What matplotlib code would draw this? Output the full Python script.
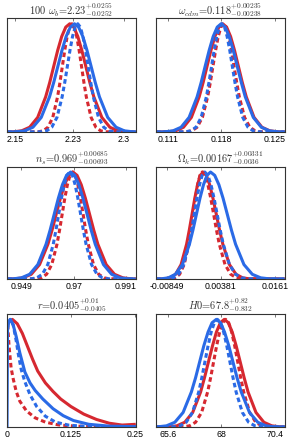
import matplotlib

matplotlib.use("Agg")
import matplotlib.pyplot as plt

RED = "#d62830"
BLUE = "#2a6ae6"

# heights (fraction of the peak) at which the bell-shaped curves were read,
# from the left edge of the panel to the right edge
levels = [0.0, 0.002, 0.011, 0.044, 0.135, 0.325, 0.458, 0.607, 0.755, 0.882, 0.969, 1.0,
          0.969, 0.882, 0.755, 0.607, 0.458, 0.325, 0.135, 0.044, 0.011, 0.002, 0.0]

# ---- 100 omega_b ----
wb_lim = (2.139, 2.3165)
wb_ticks = [2.15, 2.23, 2.3]
wb_labels = ["2.15", "2.23", "2.3"]
wb_red = [2.139, 2.1481, 2.1592, 2.1702, 2.1813, 2.1923, 2.1979, 2.2034, 2.2089, 2.2144, 2.2200, 2.2255,
          2.2310, 2.2366, 2.2421, 2.2476, 2.2531, 2.2587, 2.2697, 2.2808, 2.2918, 2.3029, 2.3165]
wb_blue = [2.139, 2.1518, 2.1633, 2.1747, 2.1862, 2.1976, 2.2034, 2.2091, 2.2148, 2.2205, 2.2263, 2.2320,
           2.2377, 2.2435, 2.2492, 2.2549, 2.2606, 2.2664, 2.2778, 2.2893, 2.3007, 2.3122, 2.3165]
wb_red_dot = [2.139, 2.1823, 2.1889, 2.1955, 2.2021, 2.2087, 2.2120, 2.2153, 2.2186, 2.2219, 2.2252, 2.2285,
              2.2318, 2.2351, 2.2384, 2.2417, 2.2450, 2.2483, 2.2549, 2.2615, 2.2681, 2.2747, 2.3165]
wb_blue_dot = [2.139, 2.1864, 2.1936, 2.2007, 2.2079, 2.2150, 2.2186, 2.2222, 2.2258, 2.2293, 2.2329, 2.2365,
               2.2401, 2.2437, 2.2472, 2.2508, 2.2544, 2.2580, 2.2651, 2.2723, 2.2794, 2.2866, 2.3165]

# ---- omega_cdm ----
wc_lim = (0.10946, 0.12631)
wc_ticks = [0.111, 0.118, 0.125]
wc_labels = ["0.111", "0.118", "0.125"]
wc_red = [0.10946, 0.11102, 0.11205, 0.11307, 0.11410, 0.11512, 0.11564, 0.11615, 0.11666, 0.11717, 0.11769,
          0.11820, 0.11871, 0.11923, 0.11974, 0.12025, 0.12076, 0.12128, 0.12230, 0.12333, 0.12435, 0.12538,
          0.12631]
wc_blue = [0.10946, 0.11065, 0.11170, 0.11275, 0.11380, 0.11485, 0.11538, 0.11590, 0.11643, 0.11695, 0.11748,
           0.11800, 0.11853, 0.11905, 0.11958, 0.12010, 0.12063, 0.12115, 0.12220, 0.12325, 0.12430, 0.12535,
           0.12631]
wc_red_dot = [0.10946, 0.11347, 0.11416, 0.11485, 0.11554, 0.11623, 0.11658, 0.11692, 0.11727, 0.11761, 0.11796,
              0.11830, 0.11865, 0.11899, 0.11934, 0.11968, 0.12003, 0.12037, 0.12106, 0.12175, 0.12244, 0.12313,
              0.12631]
wc_blue_dot = [0.10946, 0.11334, 0.11402, 0.11470, 0.11538, 0.11606, 0.11640, 0.11674, 0.11708, 0.11742, 0.11776,
               0.11810, 0.11844, 0.11878, 0.11912, 0.11946, 0.11980, 0.12014, 0.12082, 0.12150, 0.12218, 0.12286,
               0.12631]

# ---- n_s ----
ns_lim = (0.9432, 0.9950)
ns_ticks = [0.949, 0.97, 0.991]
ns_labels = ["0.949", "0.97", "0.991"]
ns_red = [0.9432, 0.94625, 0.9496, 0.95295, 0.9563, 0.95965, 0.96133, 0.9630, 0.96468, 0.96635, 0.96803, 0.9697,
          0.97138, 0.97305, 0.97473, 0.9764, 0.97808, 0.97975, 0.9831, 0.98645, 0.9898, 0.99315, 0.9950]
ns_blue = [0.9432, 0.9457, 0.9490, 0.9523, 0.9556, 0.9589, 0.96055, 0.9622, 0.96385, 0.9655, 0.96715, 0.9688,
           0.97045, 0.9721, 0.97375, 0.9754, 0.97705, 0.9787, 0.9820, 0.9853, 0.9886, 0.9919, 0.9950]
ns_red_dot = [0.9432, 0.9549, 0.9570, 0.9591, 0.9612, 0.9633, 0.96435, 0.9654, 0.96645, 0.9675, 0.96855, 0.9696,
              0.97065, 0.9717, 0.97275, 0.9738, 0.97485, 0.9759, 0.9780, 0.9801, 0.9822, 0.9843, 0.9950]
ns_blue_dot = [0.9432, 0.9530, 0.9552, 0.9574, 0.9596, 0.9618, 0.9629, 0.9640, 0.9651, 0.9662, 0.9673, 0.9684,
               0.9695, 0.9706, 0.9717, 0.9728, 0.9739, 0.9750, 0.9772, 0.9794, 0.9816, 0.9838, 0.9950]

# ---- Omega_k ----
ok_lim = (-0.01092, 0.01837)
ok_ticks = [-0.00849, 0.00381, 0.0161]
ok_labels = ["-0.00849", "0.00381", "0.0161"]
ok_red = [-0.01092, -0.00895, -0.0077, -0.00645, -0.0052, -0.00395, -0.00333, -0.0027, -0.00208, -0.00145,
          -0.00083, -0.0002, 0.00055, 0.0013, 0.00205, 0.0028, 0.00355, 0.0043, 0.0058, 0.0073, 0.0088, 0.0103,
          0.01837]
ok_blue = [-0.01092, -0.0097, -0.0081, -0.0065, -0.0049, -0.0033, -0.0025, -0.0017, -0.0009, -0.0001, 0.0007,
           0.0015, 0.00245, 0.0034, 0.00435, 0.0053, 0.00625, 0.0072, 0.0091, 0.0110, 0.0129, 0.0148, 0.01837]
ok_red_dot = [-0.01092, -0.00758, -0.00655, -0.00553, -0.0045, -0.00348, -0.00296, -0.00245, -0.00194, -0.00143,
              -0.00091, -0.0004, 0.00025, 0.0009, 0.00155, 0.0022, 0.00285, 0.0035, 0.0048, 0.0061, 0.0074, 0.0087,
              0.01837]
ok_blue_dot = [-0.01092, -0.0082, -0.0070, -0.0058, -0.0046, -0.0034, -0.0028, -0.0022, -0.0016, -0.0010, -0.0004,
               0.0002, 0.0009, 0.0016, 0.0023, 0.0030, 0.0037, 0.0044, 0.0058, 0.0072, 0.0086, 0.0100, 0.01837]

# ---- r (one-sided) ----
r_lim = (0.0, 0.2518)
r_ticks = [0.0, 0.125, 0.25]
r_labels = ["0", "0.125", "0.25"]
r_red_x = [0.0, 0.004, 0.0105, 0.02, 0.03, 0.04, 0.05, 0.06, 0.075, 0.09, 0.105,
           0.125, 0.15, 0.175, 0.2, 0.225, 0.2518]
r_red_y = [0.93, 0.98, 1.0, 0.96, 0.87, 0.75, 0.63, 0.52, 0.41, 0.33, 0.26,
           0.19, 0.12, 0.07, 0.035, 0.018, 0.025]
r_blue_x = [0.0, 0.001, 0.003, 0.0066, 0.012, 0.018, 0.025, 0.035, 0.045, 0.055, 0.07,
            0.09, 0.11, 0.13, 0.16, 0.2, 0.2518]
r_blue_y = [0.0, 0.9, 0.97, 1.0, 0.95, 0.84, 0.69, 0.51, 0.41, 0.34, 0.26,
            0.17, 0.105, 0.06, 0.025, 0.008, 0.003]
r_red_dot_x = [0.0, 0.001, 0.004, 0.008, 0.012, 0.018, 0.025, 0.038, 0.055, 0.075,
               0.1, 0.13, 0.2518]
r_red_dot_y = [0.92, 0.97, 0.75, 0.55, 0.45, 0.33, 0.24, 0.15, 0.085, 0.045,
               0.02, 0.008, 0.0]
r_blue_dot_x = [0.0, 0.003, 0.006, 0.012, 0.018, 0.022, 0.028, 0.035, 0.045, 0.058,
                0.075, 0.095, 0.12, 0.15, 0.2518]
r_blue_dot_y = [0.9, 0.97, 1.0, 0.95, 0.8, 0.68, 0.53, 0.42, 0.3, 0.19,
                0.1, 0.045, 0.018, 0.006, 0.0]

# ---- H0 ----
h_lim = (65.07, 70.85)
h_ticks = [65.6, 68, 70.4]
h_labels = ["65.6", "68", "70.4"]
h_red = [65.07, 65.655, 66.01, 66.365, 66.72, 67.075, 67.25, 67.43, 67.61, 67.785, 67.96, 68.14,
         68.32, 68.495, 68.67, 68.85, 69.03, 69.205, 69.56, 69.915, 70.27, 70.625, 70.85]
h_blue = [65.07, 65.17, 65.545, 65.92, 66.29, 66.66, 66.85, 67.035, 67.22, 67.41, 67.59, 67.78,
          67.97, 68.15, 68.34, 68.525, 68.71, 68.90, 69.27, 69.64, 70.015, 70.39, 70.85]
h_red_dot = [65.07, 66.31, 66.58, 66.85, 67.12, 67.39, 67.525, 67.66, 67.795, 67.93, 68.065, 68.20,
             68.335, 68.47, 68.605, 68.74, 68.875, 69.01, 69.28, 69.55, 69.82, 70.09, 70.85]
h_blue_dot = [65.07, 65.87, 66.15, 66.43, 66.71, 66.99, 67.13, 67.27, 67.41, 67.55, 67.69, 67.83,
              67.97, 68.11, 68.25, 68.39, 68.53, 68.67, 68.95, 69.23, 69.51, 69.79, 70.85]

titles = [
    r"100 $\omega_{b}$=$2.23^{+0.0255}_{-0.0252}$",
    r"$\omega_{cdm}$=$0.118^{+0.00235}_{-0.00238}$",
    r"$n_{s}$=$0.969^{+0.00685}_{-0.00693}$",
    r"$\Omega_{k}$=$0.00167^{+0.00331}_{-0.0036}$",
    r"$r$=$0.0405^{+0.01}_{-0.0405}$",
    r"$H0$=$67.8^{+0.82}_{-0.832}$",
]

plt.rcParams["mathtext.fontset"] = "cm"

fig = plt.figure(figsize=(2.92, 4.44), dpi=100)

lefts = [0.024, 0.534]
width = 0.441
rows = [(0.7027, 0.256), (0.3716, 0.253), (0.0383, 0.2545)]

panels = [
    (wb_lim, wb_ticks, wb_labels,
     [(wb_red, levels), (wb_red_dot, levels), (wb_blue, levels), (wb_blue_dot, levels)]),
    (wc_lim, wc_ticks, wc_labels,
     [(wc_red, levels), (wc_red_dot, levels), (wc_blue, levels), (wc_blue_dot, levels)]),
    (ns_lim, ns_ticks, ns_labels,
     [(ns_red, levels), (ns_red_dot, levels), (ns_blue, levels), (ns_blue_dot, levels)]),
    (ok_lim, ok_ticks, ok_labels,
     [(ok_red, levels), (ok_red_dot, levels), (ok_blue, levels), (ok_blue_dot, levels)]),
    (r_lim, r_ticks, r_labels,
     [(r_red_x, r_red_y), (r_red_dot_x, r_red_dot_y),
      (r_blue_x, r_blue_y), (r_blue_dot_x, r_blue_dot_y)]),
    (h_lim, h_ticks, h_labels,
     [(h_red, levels), (h_red_dot, levels), (h_blue, levels), (h_blue_dot, levels)]),
]

styles = [
    dict(color=RED, ls="-"),
    dict(color=RED, ls=(0, (1.5, 1.0))),
    dict(color=BLUE, ls="-"),
    dict(color=BLUE, ls=(0, (1.5, 1.0))),
]

for i, (lim, ticks, labels, curves) in enumerate(panels):
    bottom, height = rows[i // 2]
    ax = fig.add_axes([lefts[i % 2], bottom, width, height])
    for (xs, ys), st in zip(curves, styles):
        ax.plot(xs, ys, lw=2.2, solid_capstyle="butt", dash_capstyle="butt",
                solid_joinstyle="round", **st)
    ax.set_xlim(*lim)
    ax.set_ylim(0, 1.05)
    ax.set_yticks([])
    ax.set_xticks(ticks)
    ax.set_xticklabels(labels, fontsize=6.3, family="Liberation Sans")
    ax.tick_params(axis="x", direction="in", top=True, length=2.5, width=0.5,
                   pad=2.5, color="#444444")
    for sp in ax.spines.values():
        sp.set_linewidth(0.8)
        sp.set_color("#333333")
    ax.set_title(titles[i], fontsize=7.5, pad=3, family="cmr10", color="#333333")

fig.savefig("out.png", dpi=100)
